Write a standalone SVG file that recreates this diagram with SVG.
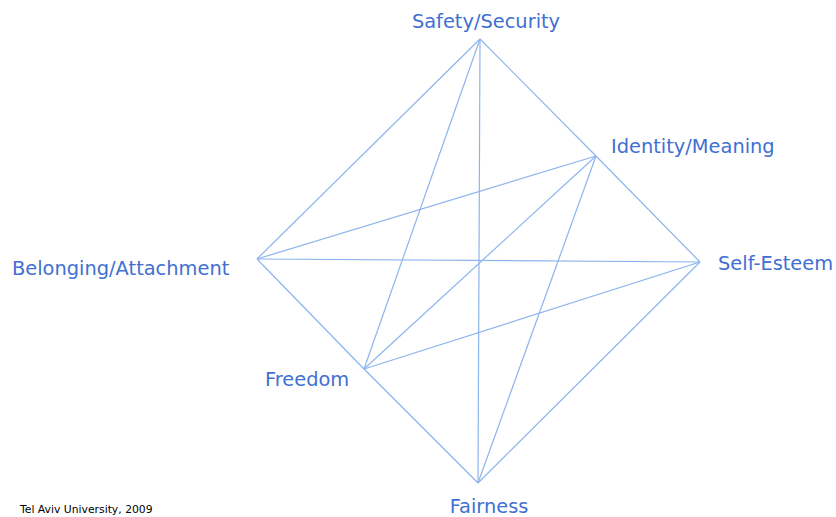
<svg xmlns="http://www.w3.org/2000/svg" width="836" height="517" viewBox="0 0 836 517">
<style>
.lbl{font-family:"DejaVu Sans",Verdana,sans-serif;font-size:19.4px;fill:#3f70d2}
.e line{stroke:#8cb4ee;stroke-width:1.2}
.note{font-family:"DejaVu Sans",Verdana,sans-serif;font-size:10.8px;fill:#000}
</style>
<rect width="836" height="517" fill="#fff"/>
<g id="connectors" class="e">
<line x1="480" y1="39" x2="257" y2="259"/>
<line x1="480" y1="39" x2="596" y2="156"/>
<line x1="480" y1="39" x2="364" y2="369"/>
<line x1="480" y1="39" x2="478" y2="483"/>
<line x1="596" y1="156" x2="700" y2="262"/>
<line x1="596" y1="156" x2="257" y2="259"/>
<line x1="596" y1="156" x2="364" y2="369"/>
<line x1="596" y1="156" x2="478" y2="483"/>
<line x1="700" y1="262" x2="257" y2="259"/>
<line x1="700" y1="262" x2="364" y2="369"/>
<line x1="700" y1="262" x2="478" y2="483"/>
<line x1="257" y1="259" x2="364" y2="369"/>
<line x1="364" y1="369" x2="478" y2="483"/>
</g>
<g id="safety"><text class="lbl" x="486" y="28" text-anchor="middle">Safety/Security</text></g>
<g id="identity"><text class="lbl" x="611" y="153">Identity/Meaning</text></g>
<g id="selfesteem"><text class="lbl" x="718" y="270">Self-Esteem</text></g>
<g id="belonging"><text class="lbl" x="12" y="275">Belonging/Attachment</text></g>
<g id="freedom"><text class="lbl" x="265" y="386">Freedom</text></g>
<g id="fairness"><text class="lbl" x="489" y="513" text-anchor="middle">Fairness</text></g>
<g id="credit"><text class="note" x="20" y="513">Tel Aviv University, 2009</text></g>
</svg>
